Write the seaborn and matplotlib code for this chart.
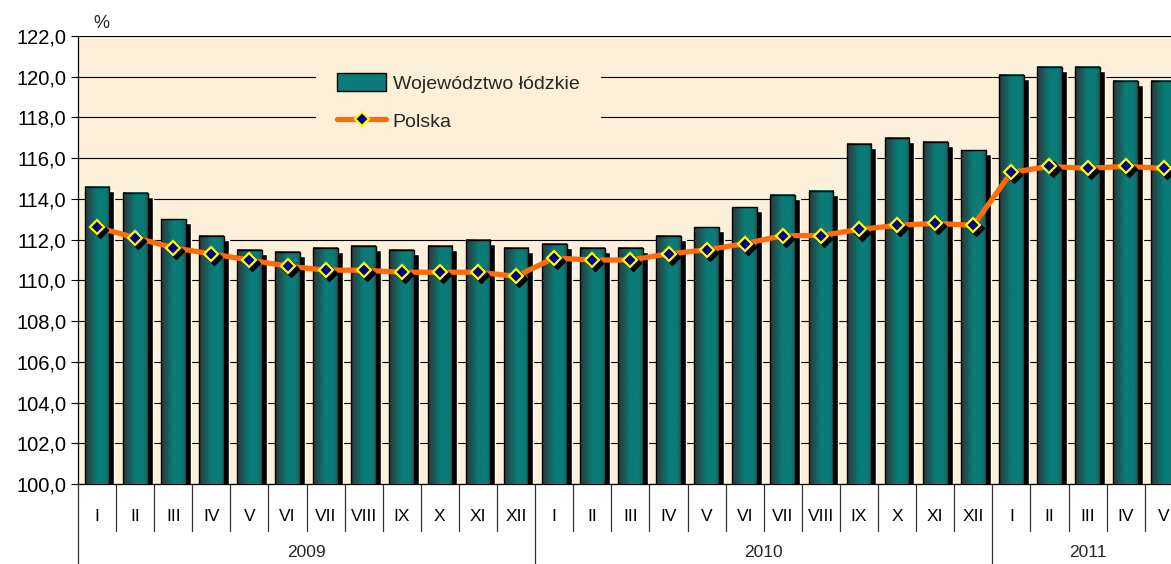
import numpy as np
import pandas as pd
import matplotlib
matplotlib.use("Agg")
import matplotlib.pyplot as plt
import matplotlib.transforms as mtransforms
from matplotlib.colors import LinearSegmentedColormap
from matplotlib.lines import Line2D
from matplotlib.patches import Patch
import seaborn as sns

# data
month_names = ["I", "II", "III", "IV", "V", "VI", "VII", "VIII", "IX", "X", "XI", "XII"]
year_list = ["2009"] * 12 + ["2010"] * 12 + ["2011"] * 5
month_list = month_names * 2 + month_names[:5]

lodzkie = [114.6, 114.3, 113.0, 112.2, 111.5, 111.4, 111.6, 111.7, 111.5, 111.7, 112.0, 111.6,
           111.8, 111.6, 111.6, 112.2, 112.6, 113.6, 114.2, 114.4, 116.7, 117.0, 116.8, 116.4,
           120.1, 120.5, 120.5, 119.8, 119.8]
polska = [112.6, 112.1, 111.6, 111.3, 111.0, 110.7, 110.5, 110.5, 110.4, 110.4, 110.4, 110.2,
          111.1, 111.0, 111.0, 111.3, 111.5, 111.8, 112.2, 112.2, 112.5, 112.7, 112.8, 112.7,
          115.3, 115.6, 115.5, 115.6, 115.5]
yticks = np.arange(100, 123, 2)

df = pd.DataFrame({"pos": np.arange(len(lodzkie)), "month": month_list, "year": year_list,
                   "lodzkie": lodzkie, "polska": polska})

sns.set_theme(style="white")
plt.rcParams["font.family"] = ["Liberation Sans", "DejaVu Sans"]

cream = "#FCF0DA"
teal = "#0A7B76"
orange = "#FF6A0A"
bar_w = 0.65

fig = plt.figure(figsize=(11.71, 5.64), dpi=100, facecolor="white")
ax = fig.add_axes([78 / 1171, 80 / 564, 1 - 78 / 1171, 448 / 564])
ax.set_facecolor(cream)

# main bars
sns.barplot(data=df, x="pos", y="lodzkie", color=teal, width=bar_w, ax=ax,
            saturation=1, errorbar=None, zorder=3)
ax.set_ylim(100, 122)
ax.set_xlim(-0.5, 28.19)

# bar shadows, shifted a few points right and down
bar_shift = mtransforms.ScaledTranslation(3.6 / 72, -2.9 / 72, fig.dpi_scale_trans)
ax.bar(df["pos"], df["lodzkie"], width=bar_w, color="black", zorder=2,
       transform=ax.transData + bar_shift)

grad_cmap = LinearSegmentedColormap.from_list(
    "bar", [(0, "#313636"), (0.22, "#1B5553"), (0.5, teal), (0.85, teal), (1, "#1F5A58")])
grad = np.linspace(0, 1, 64).reshape(1, -1)
for p in list(ax.patches)[:len(df)]:
    x0, w, top = p.get_x(), p.get_width(), p.get_y() + p.get_height()
    ax.imshow(grad, cmap=grad_cmap, extent=[x0, x0 + w, 100, top], aspect="auto",
              origin="lower", zorder=3, interpolation="bilinear")
    p.set_facecolor("none")
    p.set_edgecolor("black")
    p.set_linewidth(1.0)
    p.set_zorder(3.5)

# Polska line
sns.lineplot(data=df, x="pos", y="polska", color=orange, lw=3.8, ax=ax, zorder=5)
mk_shift = mtransforms.ScaledTranslation(2.2 / 72, -2.2 / 72, fig.dpi_scale_trans)
ax.plot(df["pos"], df["polska"], ls="none", marker="D", ms=8, color="black",
        transform=ax.transData + mk_shift, zorder=6)
ax.plot(df["pos"], df["polska"], ls="none", marker="D", ms=7.5, mfc="#000080",
        mec="#FFFF00", mew=1.6, zorder=7)

ax.set_ylim(100, 122)
ax.set_xlim(-0.5, 28.19)
ax.set_yticks(yticks)
ax.set_yticklabels([f"{v:.1f}".replace(".", ",") for v in yticks], fontsize=14.5)
ax.yaxis.grid(True, color="black", lw=0.8, zorder=0)
ax.set_axisbelow(True)
ax.set_xticks(df["pos"])
ax.set_xticklabels(df["month"], fontsize=12.5)
ax.tick_params(axis="x", length=4, width=0.8, color="#333333", pad=14, labelcolor="black")
ax.tick_params(axis="y", length=5, width=0.8, color="black", left=True, labelcolor="black")
ax.set_xlabel("")
ax.set_ylabel("")
for s in ["top", "right"]:
    ax.spines[s].set_visible(False)
for s in ["left", "bottom"]:
    ax.spines[s].set_color("black")
    ax.spines[s].set_linewidth(0.9)

# category separators and year labels below the axis
blend = mtransforms.blended_transform_factory(ax.transData, ax.transAxes)
for i in range(1, len(df)):
    if df["year"][i] == df["year"][i - 1]:
        ax.plot([i - 0.5, i - 0.5], [0, -0.105], color="#333333", lw=0.9,
                transform=blend, clip_on=False)
    else:
        ax.plot([i - 0.5, i - 0.5], [0, -0.2], color="#333333", lw=0.9,
                transform=blend, clip_on=False)
ax.plot([-0.5, -0.5], [0, -0.2], color="#333333", lw=0.9, transform=blend, clip_on=False)
for yr, grp in df.groupby("year"):
    ax.text(grp["pos"].mean(), -0.154, yr, transform=blend, ha="center", va="center",
            fontsize=12.5)

ax.text(0.014, 1.008, "%", transform=ax.transAxes, fontsize=13, ha="left", va="bottom")

handles = [Patch(facecolor=teal, edgecolor="black", lw=1.0),
           Line2D([], [], color=orange, lw=3.8, marker="D", ms=7.5, mfc="#000080",
                  mec="#FFFF00", mew=1.6)]
leg = ax.legend(handles, ["Województwo łódzkie", "Polska"], loc="upper left",
                bbox_to_anchor=(316 / 1171, 1 - 52 / 564), bbox_transform=fig.transFigure,
                fontsize=14, frameon=True, facecolor=cream, edgecolor="none", framealpha=1,
                handlelength=2.5, handleheight=1.0, handletextpad=0.35, labelspacing=0.95,
                borderpad=1.1, borderaxespad=0, fancybox=False)
leg.set_zorder(10)

fig.savefig("out.png", dpi=100, facecolor="white")
